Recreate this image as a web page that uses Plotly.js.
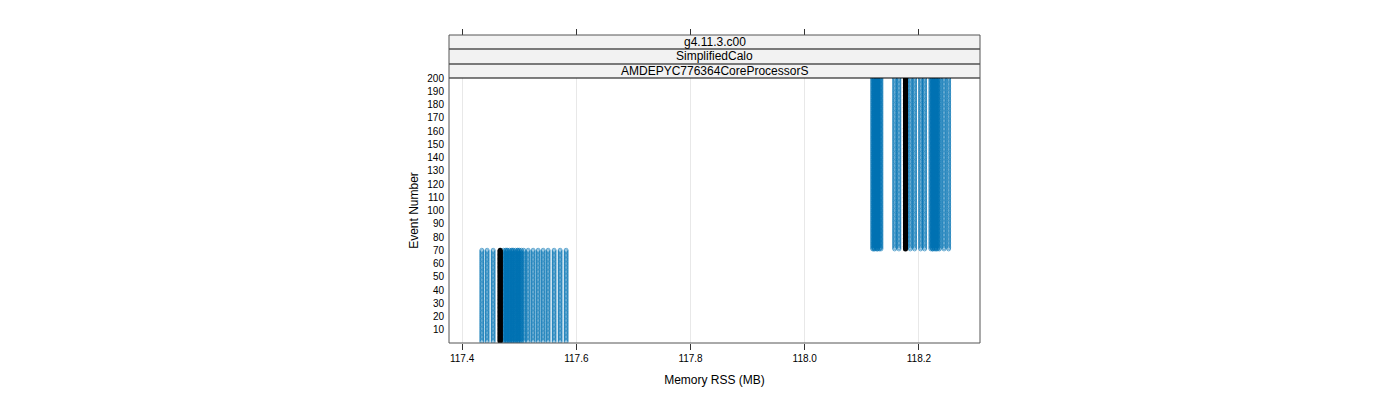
<!DOCTYPE html>
<html><head><meta charset="utf-8">
<script src="https://cdn.plot.ly/plotly-3.0.1.min.js"></script>
<style>html,body{margin:0;padding:0;background:#fff}#chart{width:1400px;height:400px}</style>
</head><body><div id="chart"></div>
<script>
// Strip labels
const stripLabels = ["g4.11.3.c00", "SimplifiedCalo", "AMDEPYC776364CoreProcessorS"];
// Event ranges of the two phases
const lowEventFirst = 1, lowEventLast = 70;
const highEventFirst = 71, highEventLast = 200;
// Memory RSS (MB) of each run in the two phases
const lowRSS = [117.4345, 117.4438, 117.4543, 117.4725, 117.4760, 117.4795, 117.4830, 117.4865, 117.4900, 117.4935, 117.4970, 117.5005, 117.5040, 117.5080, 117.4780, 117.4880, 117.4980,
                117.5156, 117.5243, 117.5331, 117.5419, 117.5506, 117.5611, 117.5716, 117.5821];
const highRSS = [118.1190, 118.1220, 118.1250, 118.1280, 118.1310, 118.1335, 118.1210, 118.1270, 118.1575, 118.1650, 118.1850, 118.1925, 118.2030, 118.2100,
                 118.2210, 118.2240, 118.2270, 118.2300, 118.2330, 118.2360, 118.2240, 118.2300, 118.2440, 118.2520];
// Median line per phase
const lowMedian = 117.4666;
const highMedian = 118.1765;
const xTicks = [117.4, 117.6, 117.8, 118.0, 118.2];
const yTicks = [10,20,30,40,50,60,70,80,90,100,110,120,130,140,150,160,170,180,190,200];

function events(a, b){ const r=[]; for(let e=a;e<=b;e++) r.push(e); return r; }
const lowEv = events(lowEventFirst, lowEventLast);
const highEv = events(highEventFirst, highEventLast);

const traces = [];
const mk = {symbol:'circle-open', size:4, color:'rgba(0,114,178,0.6)', line:{width:1, color:'rgba(0,114,178,0.6)'}};
lowRSS.forEach(v => traces.push({type:'scatter', mode:'markers', x: lowEv.map(()=>v), y: lowEv, marker: mk, hoverinfo:'skip', showlegend:false}));
highRSS.forEach(v => traces.push({type:'scatter', mode:'markers', x: highEv.map(()=>v), y: highEv, marker: mk, hoverinfo:'skip', showlegend:false}));
[[lowMedian, lowEv],[highMedian, highEv]].forEach(([v, ev]) => traces.push({
  type:'scatter', mode:'lines+markers', x: ev.map(()=>v), y: ev,
  line:{color:'#000', width:5}, marker:{symbol:'circle', size:5, color:'#000'}, hoverinfo:'skip', showlegend:false}));
// invisible trace for the top axis ticks
traces.push({type:'scatter', mode:'markers', x:[117.4], y:[100], xaxis:'x2', marker:{opacity:0}, hoverinfo:'skip', showlegend:false});

const H = 308, domTop = 265/H;
const s1 = (343-49)/H, s2 = (343-64)/H;
const shapes = [
  {type:'rect', xref:'paper', yref:'paper', x0:0, x1:1, y0:domTop, y1:1, fillcolor:'#f2f2f2', line:{width:0}, layer:'below'},
  {type:'line', xref:'paper', yref:'paper', x0:0, x1:1, y0:s1, y1:s1, line:{color:'#000', width:1}},
  {type:'line', xref:'paper', yref:'paper', x0:0, x1:1, y0:s2, y1:s2, line:{color:'#000', width:1}},
  {type:'line', xref:'paper', yref:'paper', x0:0, x1:1, y0:domTop, y1:domTop, line:{color:'#000', width:1}},
  {type:'rect', xref:'paper', yref:'paper', x0:0, x1:1, y0:0, y1:1, line:{color:'#555', width:1}}
];
const annotations = stripLabels.map((t,i) => ({
  xref:'paper', yref:'paper', x:0.5, y:[ (1+s1)/2, (s1+s2)/2, (s2+domTop)/2 ][i],
  text:t, showarrow:false, font:{size:12, color:'#000', family:'Liberation Sans, Arial, sans-serif'}, xanchor:'center', yanchor:'middle'
}));

const layout = {
  width:1400, height:400,
  margin:{l:449, r:420, t:35, b:57, pad:0},
  paper_bgcolor:'#fff', plot_bgcolor:'#fff',
  font:{family:'Liberation Sans, Arial, sans-serif', color:'#000'},
  xaxis:{range:[117.377, 118.307], tickvals:xTicks, ticktext:xTicks.map(v=>v.toFixed(1)),
    ticks:'outside', ticklen:6, tickcolor:'#333', showgrid:true, gridcolor:'#e8e8e8', zeroline:false,
    showline:false, tickfont:{size:10}, anchor:'y',
    title:{text:'Memory RSS (MB)', font:{size:12}, standoff:12}},
  xaxis2:{overlaying:'x', matches:'x', side:'top', anchor:'free', position:1, tickvals:xTicks, showticklabels:false,
    ticks:'outside', ticklen:6, tickcolor:'#333', showgrid:false, zeroline:false, showline:false},
  yaxis:{domain:[0, domTop], range:[0,200], tickvals:yTicks, ticks:'', showgrid:false, zeroline:false, showline:false,
    tickfont:{size:10}, ticklabelstandoff:4,
    title:{text:'Event Number', font:{size:12}, standoff:6}},
  shapes, annotations
};
Plotly.newPlot('chart', traces, layout, {staticPlot:true});
</script></body></html>
